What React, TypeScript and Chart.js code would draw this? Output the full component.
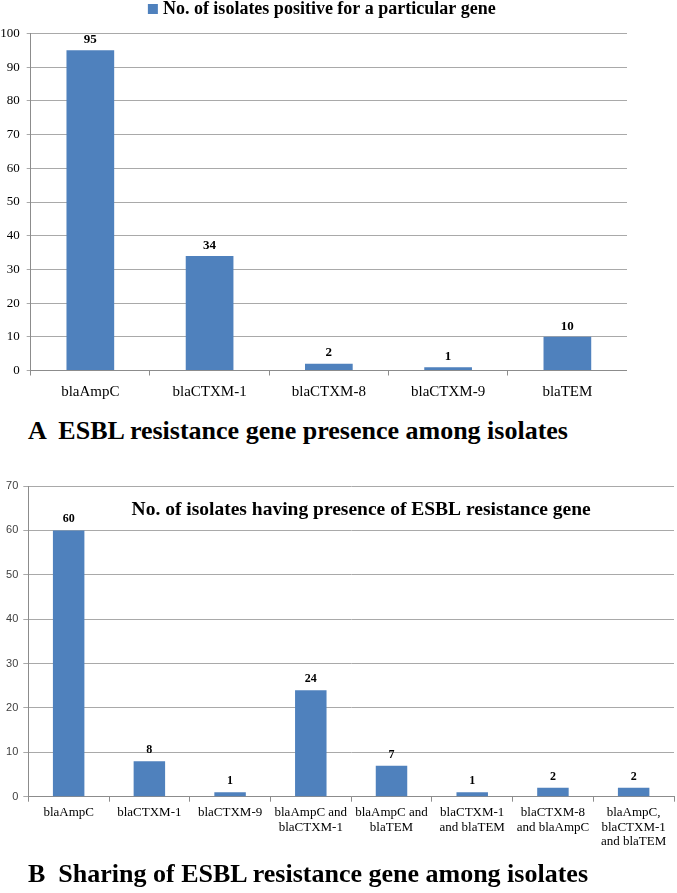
import React, { useEffect, useRef } from "react";
import { Chart, registerables } from "chart.js";

Chart.register(...registerables);

// ---------- data ----------
const genesA = ["blaAmpC", "blaCTXM-1", "blaCTXM-8", "blaCTXM-9", "blaTEM"];
const countsA = [95, 34, 2, 1, 10];
const legendA = "No. of isolates positive for a particular gene";
const captionA = "A  ESBL resistance gene presence among isolates";

const combosB = [
  ["blaAmpC"],
  ["blaCTXM-1"],
  ["blaCTXM-9"],
  ["blaAmpC and", "blaCTXM-1"],
  ["blaAmpC and", "blaTEM"],
  ["blaCTXM-1", "and blaTEM"],
  ["blaCTXM-8", "and blaAmpC"],
  ["blaAmpC,", "blaCTXM-1", "and blaTEM"],
];
const countsB = [60, 8, 1, 24, 7, 1, 2, 2];
const titleB = "No. of isolates having presence of ESBL resistance gene";
const captionB = "B  Sharing of ESBL resistance gene among isolates";

// ---------- styles ----------
const SERIF = "'Liberation Serif', 'Times New Roman', serif";
const SANS = "'Liberation Sans Narrow', 'Liberation Sans', Arial, sans-serif";
const BAR = "#4f81bd";
const GRID = "#a9a9a9";
const AXIS = "#8c8c8c";

function valueLabels(font: string, offset: number) {
  return {
    id: "valueLabels",
    afterDatasetsDraw(chart: any) {
      const ctx = chart.ctx;
      const meta = chart.getDatasetMeta(0);
      const data = chart.data.datasets[0].data;
      ctx.save();
      ctx.font = font;
      ctx.fillStyle = "#000";
      ctx.textAlign = "center";
      ctx.textBaseline = "alphabetic";
      meta.data.forEach((el: any, i: number) => {
        ctx.fillText(String(data[i]), el.x, el.y - offset);
      });
      ctx.restore();
    },
  };
}

// legend drawn above the plot (box + dataset label), centred slightly left of the plot centre
const topLegend = {
  id: "topLegend",
  afterDraw(chart: any) {
    const { ctx, chartArea } = chart;
    const ds = chart.data.datasets[0];
    ctx.save();
    ctx.font = `bold 18px ${SERIF}`;
    const tw = ctx.measureText(ds.label).width;
    const box = 10;
    const gap = 5;
    const total = box + gap + tw;
    const cx = (chartArea.left + chartArea.right) / 2 - 7;
    const x0 = cx - total / 2;
    const cy = chartArea.top - 24.5;
    ctx.fillStyle = ds.backgroundColor;
    ctx.fillRect(x0, cy - box / 2, box, box);
    ctx.fillStyle = "#000";
    ctx.textAlign = "left";
    ctx.textBaseline = "middle";
    ctx.fillText(ds.label, x0 + box + gap, cy);
    ctx.restore();
  },
};

const innerTitle = {
  id: "innerTitle",
  afterDraw(chart: any) {
    const { ctx, chartArea, scales } = chart;
    ctx.save();
    ctx.font = `bold 19.5px ${SERIF}`;
    ctx.fillStyle = "#000";
    ctx.textAlign = "center";
    ctx.textBaseline = "middle";
    ctx.fillText(
      titleB,
      (chartArea.left + chartArea.right) / 2 + 10,
      scales.y.getPixelForValue(64.5)
    );
    ctx.restore();
  },
};

export default function App() {
  const refA = useRef<HTMLCanvasElement | null>(null);
  const refB = useRef<HTMLCanvasElement | null>(null);

  useEffect(() => {
    document.body.style.margin = "0";
    const chartA = new Chart(refA.current!, {
      type: "bar",
      data: {
        labels: genesA,
        datasets: [
          {
            label: legendA,
            data: countsA,
            backgroundColor: BAR,
            barPercentage: 0.4,
            categoryPercentage: 1,
          },
        ],
      },
      options: {
        animation: false,
        responsive: false,
        maintainAspectRatio: false,
        layout: { padding: { left: 0, right: 0, top: 33.5, bottom: 0 } },
        plugins: {
          legend: { display: false },
          tooltip: { enabled: false },
        },
        scales: {
          x: {
            grid: {
              drawOnChartArea: false,
              drawTicks: true,
              tickLength: 5,
              offset: true,
              color: AXIS,
            },
            border: { color: AXIS },
            ticks: {
              font: { family: SERIF, size: 15 },
              color: "#000",
              padding: 8,
              maxRotation: 0,
              autoSkip: false,
            },
            afterFit: (s: any) => {
              s.height = 29.5;
            },
          },
          y: {
            min: 0,
            max: 100,
            ticks: {
              stepSize: 10,
              font: { family: SERIF, size: 13 },
              color: "#000",
              padding: 7,
            },
            grid: { color: GRID, tickLength: 4 },
            border: { color: AXIS },
            afterFit: (s: any) => {
              s.width = 30.7;
            },
          },
        },
      } as any,
      plugins: [valueLabels(`bold 13px ${SERIF}`, 7.3), topLegend],
    });

    const chartB = new Chart(refB.current!, {
      type: "bar",
      data: {
        labels: combosB as any,
        datasets: [
          {
            label: titleB,
            data: countsB,
            backgroundColor: BAR,
            barPercentage: 0.39,
            categoryPercentage: 1,
          },
        ],
      },
      options: {
        animation: false,
        responsive: false,
        maintainAspectRatio: false,
        layout: { padding: { top: 26, right: 3, left: 0, bottom: 0 } },
        plugins: {
          legend: { display: false },
          tooltip: { enabled: false },
        },
        scales: {
          x: {
            grid: {
              drawOnChartArea: false,
              drawTicks: true,
              tickLength: 5,
              offset: true,
              color: AXIS,
            },
            border: { color: AXIS },
            ticks: {
              font: { family: SERIF, size: 13, lineHeight: 1.15 },
              color: "#000",
              padding: 3,
              maxRotation: 0,
              autoSkip: false,
            },
            afterFit: (s: any) => {
              s.height = 63.3;
            },
          },
          y: {
            min: 0,
            max: 70,
            ticks: {
              stepSize: 10,
              font: { family: SANS, size: 11 },
              color: "#404040",
              padding: 5,
            },
            grid: { color: GRID, tickLength: 5 },
            border: { color: AXIS },
            afterFit: (s: any) => {
              s.width = 28.3;
            },
          },
        },
      } as any,
      plugins: [valueLabels(`bold 12px ${SERIF}`, 8), innerTitle],
    });

    return () => {
      chartA.destroy();
      chartB.destroy();
    };
  }, []);

  const caption: React.CSSProperties = {
    position: "absolute",
    left: 28,
    fontFamily: SERIF,
    fontWeight: "bold",
    fontSize: 26,
    lineHeight: "26px",
    whiteSpace: "pre",
    color: "#000",
  };

  return (
    <div style={{ position: "relative", width: 677, height: 893, background: "#fff", overflow: "hidden" }}>
      <canvas
        ref={refA}
        width={627}
        height={400}
        style={{ position: "absolute", left: 0, top: 0, width: 627, height: 400 }}
      />
      <div style={{ ...caption, top: 418 }}>{captionA}</div>
      <canvas
        ref={refB}
        width={677}
        height={400}
        style={{ position: "absolute", left: 0, top: 460, width: 677, height: 400 }}
      />
      <div style={{ ...caption, top: 861 }}>{captionB}</div>
    </div>
  );
}
